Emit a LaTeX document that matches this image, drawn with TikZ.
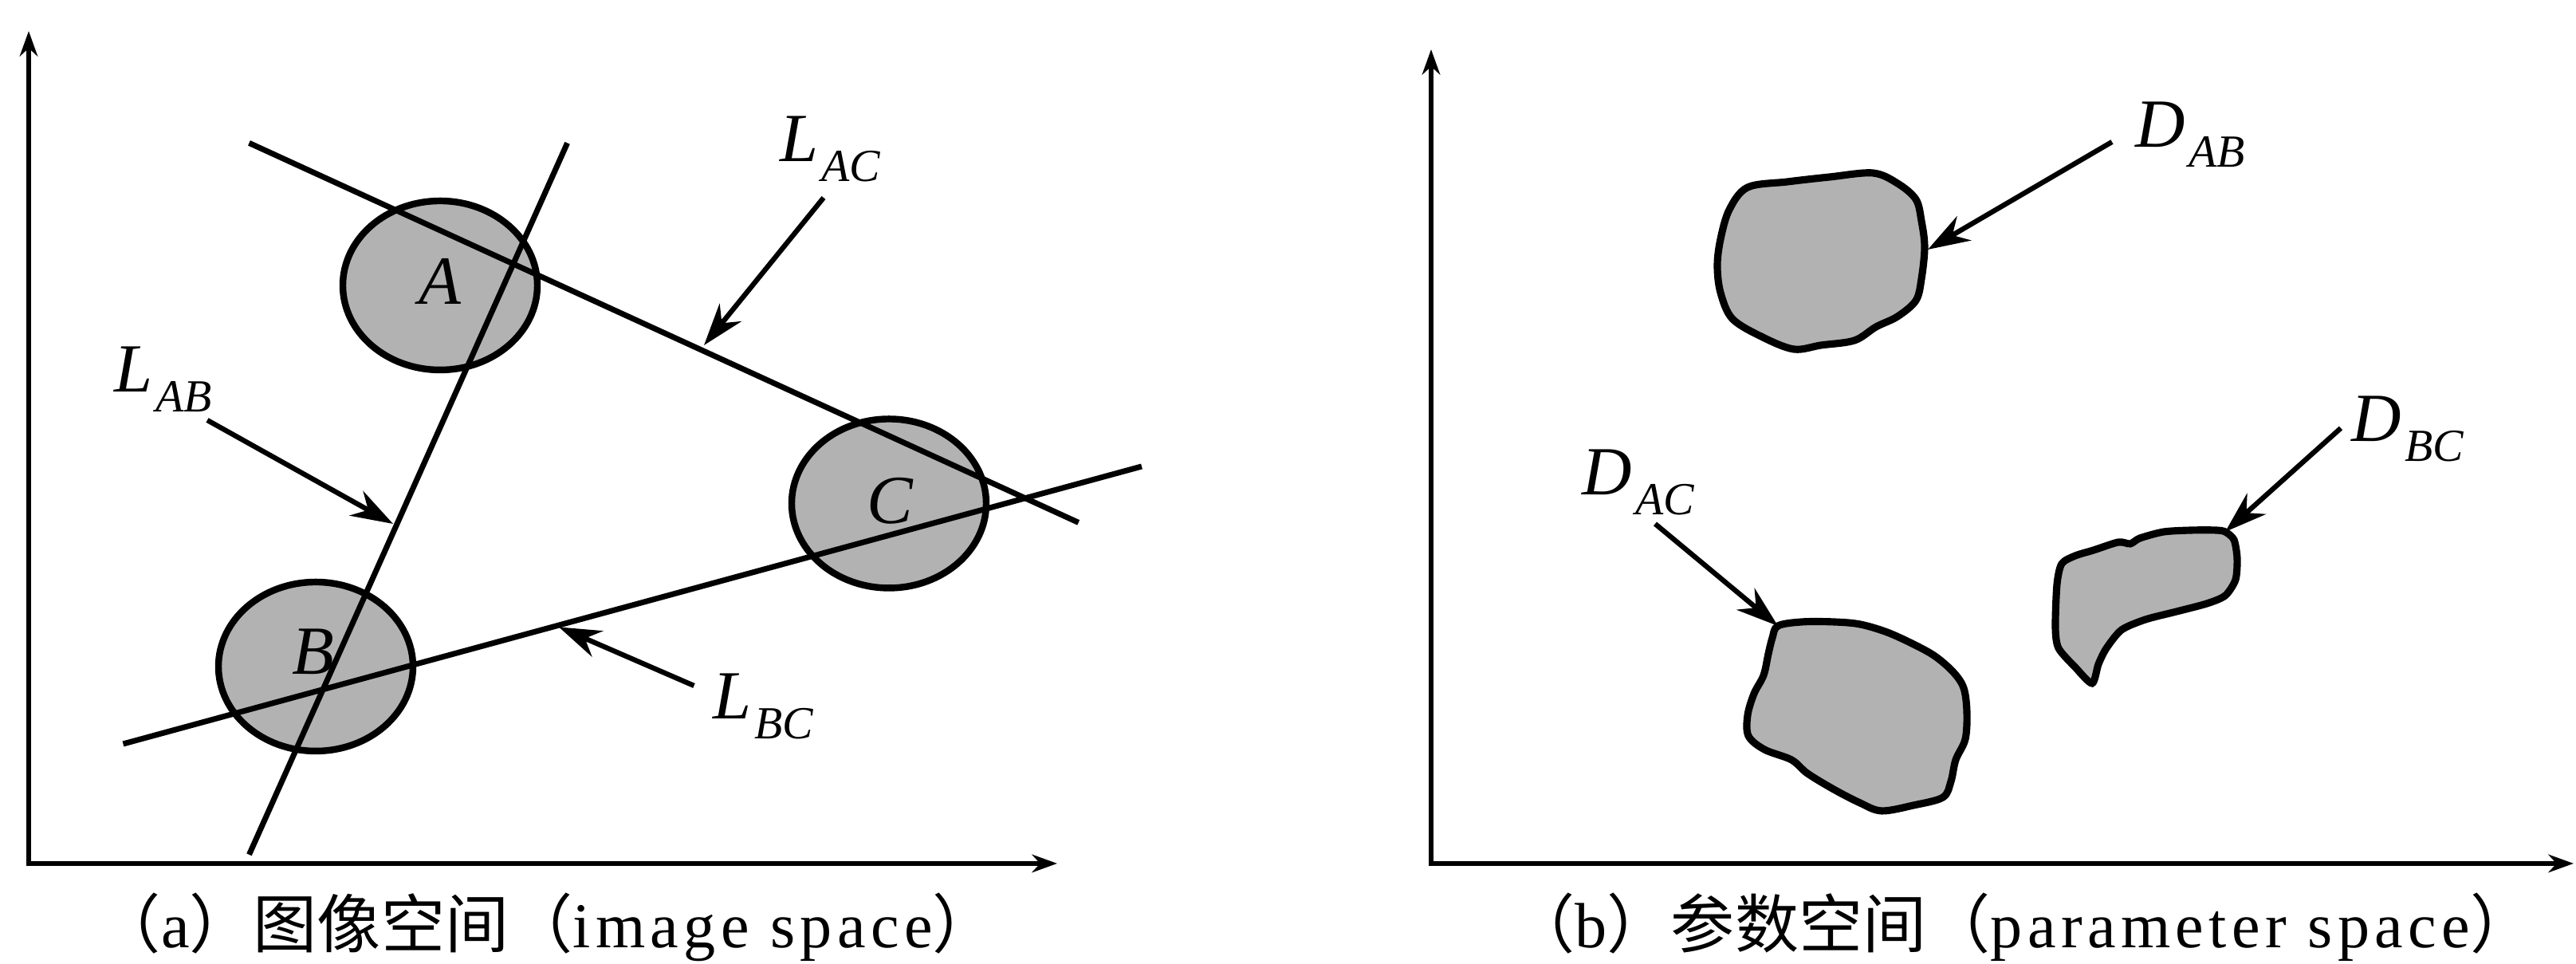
\documentclass[tikz,border=0pt]{standalone}
\usepackage{fontspec}
\setmainfont{Liberation Serif}
\newfontfamily\cjk{Noto Sans CJK SC}
\newfontfamily\caplatin[LetterSpace=8]{Liberation Serif}
\usetikzlibrary{arrows.meta,shapes.geometric}
\newcommand{\seglabel}[2]{\textit{#1}\kern0.6pt\raisebox{-3.5pt}{\fontsize{8.2}{9}\selectfont\textit{#2}}}

\begin{document}
\begin{tikzpicture}[>={Stealth[length=7.5pt,width=5pt]},
    axis/.style={line width=0.8pt, {Stealth[length=4.5pt,width=3.2pt]}-{Stealth[length=4.5pt,width=3.2pt]}},
    ray/.style={line width=1pt},
    pointer/.style={line width=0.9pt, ->},
    spot/.style={ellipse, draw, line width=1.2pt, fill=black!30, minimum width=1.22cm,
      minimum height=1.06cm, inner sep=0pt},
    blob/.style={draw, line width=1.3pt, fill=black!30},
    letter/.style={font=\fontsize{12.3}{13}\selectfont\itshape},
    tag/.style={anchor=base west, inner sep=0pt, font=\fontsize{12.3}{13}\selectfont},
    caption/.style={font=\fontsize{11.4}{13}\selectfont, inner sep=0pt}]

  \useasboundingbox (0,0) rectangle (16.155,6.045);

  % (a) image space
  \draw[axis] (0.18,5.85) -- (0.18,0.63) -- (6.63,0.63);
  \node[spot] (A) at (2.76,4.255) {};
  \node[spot] (B) at (1.98,1.865) {};
  \node[spot] (C) at (5.575,2.8875) {};
  \coordinate (ac1) at (1.5625,5.148);
  \coordinate (ac2) at (6.7635,2.768);
  \coordinate (ab1) at (3.558,5.148);
  \coordinate (ab2) at (1.5625,0.6857);
  \coordinate (bc1) at (0.7725,1.38);
  \coordinate (bc2) at (7.16,3.12);
  \draw[ray] (ac1) -- (ac2);
  \draw[ray] (ab1) -- (ab2);
  \draw[ray] (bc1) -- (bc2);
  \node[letter] (tA) at (2.76,4.28) {A};
  \node[letter] (tB) at (1.965,1.96) {B};
  \node[letter] (tC) at (5.58,2.905) {C};

  \node[tag] (Lac) at (4.885,5.03) {\seglabel{L}{AC}};
  \node[tag] (Lab) at (0.71,3.585) {\seglabel{L}{AB}};
  \node[tag] (Lbc) at (4.465,1.535) {\seglabel{L}{BC}};
  \coordinate (lac0) at (5.165,4.805);
  \coordinate (lac1) at (4.415,3.88);
  \coordinate (lab0) at (1.30,3.41);
  \coordinate (lab1) at (2.465,2.76);
  \coordinate (lbc0) at (4.3525,1.745);
  \coordinate (lbc1) at (3.505,2.1125);
  \draw[pointer] (lac0) -- (lac1);
  \draw[pointer] (lab0) -- (lab1);
  \draw[pointer] (lbc0) -- (lbc1);

  \node[caption] (capa) at (3.43,0.23)
    {{\cjk （}{\caplatin a}{\cjk ）图像空间（}{\caplatin image space}{\cjk ）}};

  % (b) parameter space
  \draw[axis] (8.975,5.735) -- (8.975,0.63) -- (16.14,0.63);
  \draw[blob] plot[smooth cycle, tension=0.55] coordinates {
    (10.96,4.87) (11.21,4.905) (11.475,4.935) (11.745,4.96) (11.90,4.895)
    (12.015,4.795) (12.05,4.66) (12.07,4.495) (12.05,4.295) (12.015,4.16)
    (11.90,4.06) (11.765,3.995) (11.63,3.91) (11.42,3.88) (11.25,3.855)
    (11.055,3.93) (10.865,4.045) (10.79,4.21) (10.77,4.38) (10.79,4.545)
    (10.845,4.73)};
  \draw[blob] plot[smooth cycle, tension=0.55] coordinates {
    (11.15,2.12) (11.30,2.145) (11.50,2.145) (11.665,2.13) (11.835,2.08)
    (12.00,2.005) (12.135,1.93) (12.25,1.83) (12.315,1.73) (12.335,1.58)
    (12.325,1.41) (12.265,1.28) (12.235,1.145) (12.185,1.045) (12.00,0.995)
    (11.80,0.96) (11.665,1.01) (11.50,1.095) (11.335,1.195) (11.235,1.28)
    (11.065,1.345) (10.965,1.43) (10.96,1.56) (11.00,1.695) (11.06,1.81)
    (11.09,1.945) (11.115,2.045)};
  \draw[blob] plot[smooth cycle, tension=0.45] coordinates {
    (13.955,2.71) (14.01,2.66) (14.03,2.545) (14.02,2.41) (13.955,2.31)
    (13.84,2.26) (13.65,2.21) (13.455,2.16) (13.305,2.095) (13.21,1.98)
    (13.16,1.88) (13.12,1.76) (13.015,1.86) (12.91,1.98) (12.89,2.11)
    (12.90,2.38) (12.93,2.51) (13.015,2.56) (13.13,2.595) (13.285,2.645)
    (13.36,2.635) (13.42,2.67) (13.57,2.71) (13.745,2.72) (13.895,2.72)};

  \node[tag] (Dab) at (13.385,5.12) {\seglabel{D}{AB}};
  \node[tag] (Dac) at (9.915,2.94) {\seglabel{D}{AC}};
  \node[tag] (Dbc) at (14.74,3.275) {\seglabel{D}{BC}};
  \coordinate (dab0) at (13.245,5.155);
  \coordinate (dab1) at (12.09,4.48);
  \coordinate (dac0) at (10.38,2.76);
  \coordinate (dac1) at (11.15,2.12);
  \coordinate (dbc0) at (14.68,3.36);
  \coordinate (dbc1) at (13.955,2.71);
  \draw[pointer] (dab0) -- (dab1);
  \draw[pointer] (dac0) -- (dac1);
  \draw[pointer] (dbc0) -- (dbc1);

  \node[caption] (capb) at (12.685,0.23)
    {{\cjk （}{\caplatin b}{\cjk ）参数空间（}{\caplatin parameter space}{\cjk ）}};
\end{tikzpicture}
\end{document}
